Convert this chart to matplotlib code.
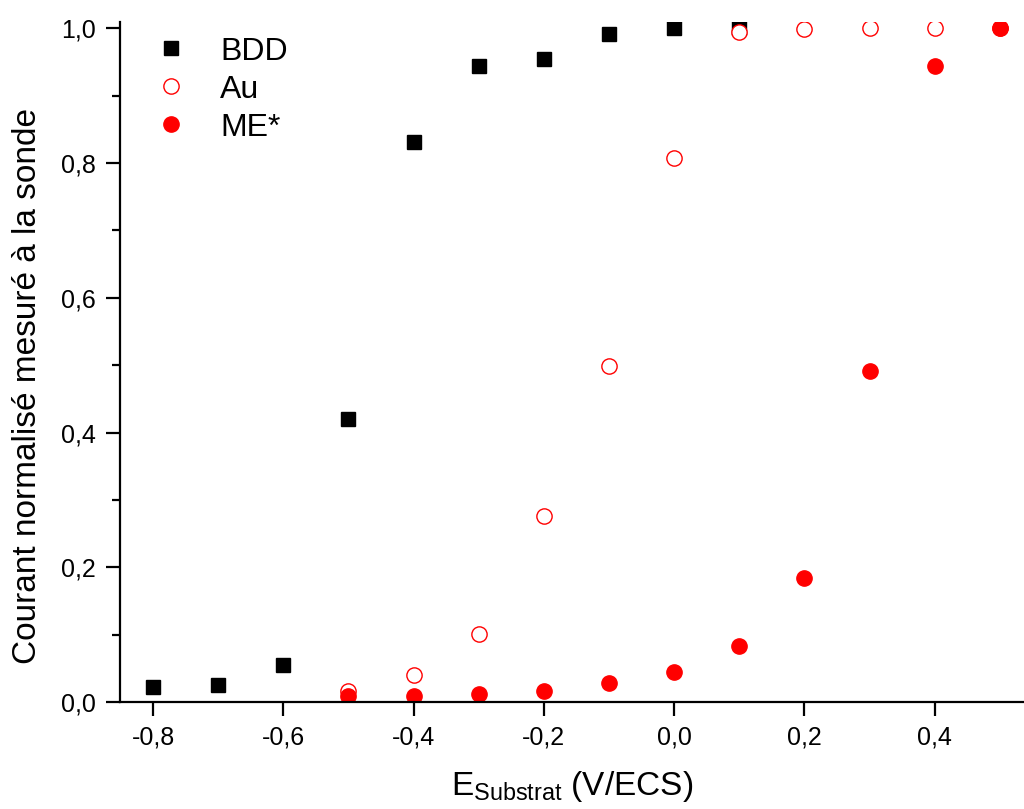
import matplotlib
matplotlib.use("Agg")
import matplotlib.pyplot as plt
from matplotlib.ticker import FixedLocator, FuncFormatter, MultipleLocator

plt.rcParams['font.family'] = ['Liberation Sans', 'DejaVu Sans']
plt.rcParams['mathtext.fontset'] = 'custom'
plt.rcParams['mathtext.rm'] = 'Liberation Sans'

# Data
x_bdd = [-0.8, -0.7, -0.6, -0.5, -0.4, -0.3, -0.2, -0.1, 0.0, 0.1]
y_bdd = [0.022, 0.025, 0.055, 0.421, 0.832, 0.944, 0.954, 0.991, 1.0, 1.0]

x_au = [-0.5, -0.4, -0.3, -0.2, -0.1, 0.0, 0.1, 0.2, 0.3, 0.4, 0.5]
y_au = [0.016, 0.040, 0.101, 0.276, 0.499, 0.807, 0.994, 0.999, 1.0, 1.0, 1.0]

x_me = [-0.5, -0.4, -0.3, -0.2, -0.1, 0.0, 0.1, 0.2, 0.3, 0.4, 0.5]
y_me = [0.009, 0.009, 0.012, 0.017, 0.028, 0.045, 0.083, 0.185, 0.491, 0.944, 1.0]

xticks = [-0.8, -0.6, -0.4, -0.2, 0.0, 0.2, 0.4]
yticks = [0.0, 0.2, 0.4, 0.6, 0.8, 1.0]

fig = plt.figure(figsize=(10.24, 8.09), dpi=100)
ax = fig.add_axes([0.117, 0.132, 0.883, 0.8405])

ax.plot(x_bdd, y_bdd, 's', color='black', markersize=10, label='BDD')
ax.plot(x_au, y_au, 'o', markerfacecolor='white', markeredgecolor='red',
        markeredgewidth=1.0, markersize=11, label='Au')
ax.plot(x_me, y_me, 'o', color='red', markersize=11, label='ME*')

ax.set_xlim(-0.851, 0.537)
ax.set_ylim(0, 1.009)

ax.spines['top'].set_visible(False)
ax.spines['right'].set_visible(False)
for s in ['left', 'bottom']:
    ax.spines[s].set_linewidth(1.6)

fmt = FuncFormatter(lambda v, p: ('%.1f' % v).replace('.', ',').replace('-0,0', '0,0'))
ax.xaxis.set_major_locator(FixedLocator(xticks))
ax.yaxis.set_major_locator(FixedLocator(yticks))
ax.yaxis.set_minor_locator(MultipleLocator(0.1))
ax.xaxis.set_major_formatter(fmt)
ax.yaxis.set_major_formatter(fmt)
ax.tick_params(which='major', direction='out', length=10, width=1.6, labelsize=18, pad=7)
ax.tick_params(which='minor', axis='y', direction='out', length=6, width=1.6)

ax.set_xlabel(r'E$_{\mathrm{Substrat}}$ (V/ECS)', fontsize=24, labelpad=14)
ax.set_ylabel('Courant normalisé mesuré à la sonde', fontsize=24)
ax.yaxis.set_label_coords(-0.085, 0.465)

ax.legend(loc='upper left', bbox_to_anchor=(0.005, 1.0), frameon=False, fontsize=23,
          handletextpad=0.55, labelspacing=0.25, borderaxespad=0.3, borderpad=0.15)

fig.savefig('out.png', dpi=100)
